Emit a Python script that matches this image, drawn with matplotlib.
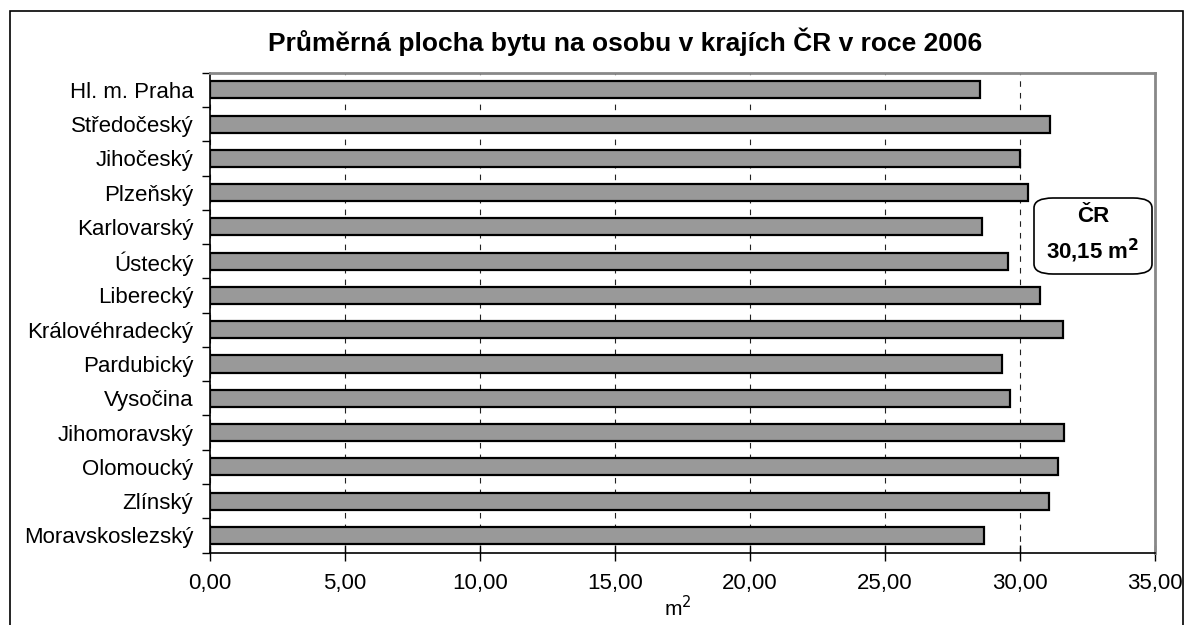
import matplotlib

matplotlib.use("Agg")
import matplotlib.pyplot as plt
import numpy as np
from matplotlib.patches import FancyBboxPatch, Rectangle
from matplotlib.ticker import FixedLocator, FuncFormatter

plt.rcParams["font.family"] = ["Liberation Sans", "DejaVu Sans"]

regions = [
    "Hl. m. Praha", "Středočeský", "Jihočeský", "Plzeňský", "Karlovarský",
    "Ústecký", "Liberecký", "Královéhradecký", "Pardubický", "Vysočina",
    "Jihomoravský", "Olomoucký", "Zlínský", "Moravskoslezský",
]
area = [28.52, 31.11, 30.00, 30.28, 28.60, 29.57, 30.74,
        31.58, 29.34, 29.63, 31.64, 31.41, 31.06, 28.68]
cr_average = 30.15
x_ticks = [0, 5, 10, 15, 20, 25, 30, 35]

fig = plt.figure(figsize=(11.84, 6.25), dpi=100)
ax = fig.add_axes([0.1774, 0.116, 0.7981, 0.7677])

n = len(regions)
ypos = np.arange(n)[::-1]
ax.barh(ypos, area, height=0.5, color="#999999", edgecolor="black",
        linewidth=1.6, zorder=3)

ax.set_xlim(0, 35)
ax.set_ylim(-0.5, n - 0.5)
ax.set_xticks(x_ticks)
ax.xaxis.set_major_formatter(FuncFormatter(lambda v, _: f"{v:.2f}".replace(".", ",")))
ax.grid(axis="x", color="#222222", linestyle=(0, (5, 5.5)), linewidth=0.8, zorder=1)

ax.set_yticks(ypos)
ax.set_yticklabels(regions)
ax.yaxis.set_minor_locator(FixedLocator(np.arange(n + 1) - 0.5))
ax.tick_params(axis="y", which="major", length=0, pad=12, labelsize=16)
ax.tick_params(axis="y", which="minor", length=6, width=1, direction="out")
ax.tick_params(axis="x", which="major", length=12, width=1, direction="inout",
               labelsize=16, pad=9)

for side in ("left", "bottom"):
    ax.spines[side].set_color("black")
    ax.spines[side].set_linewidth(1.2)
for side in ("top", "right"):
    ax.spines[side].set_color("#888888")
    ax.spines[side].set_linewidth(2)

fig.text(0.528, 0.933, "Průměrná plocha bytu na osobu v krajích ČR v roce 2006",
         ha="center", va="center", fontsize=19, fontweight="bold")
fig.text(0.572, 0.028, "m$^2$", ha="center", va="center", fontsize=15)

# average annotation box
box = FancyBboxPatch((1034 / 1184, 1 - 274 / 625), 118 / 1184, 76 / 625,
                     boxstyle="round,pad=0,rounding_size=0.016",
                     transform=fig.transFigure, facecolor="white",
                     edgecolor="black", linewidth=1.2, zorder=5)
fig.add_artist(box)
fig.text(1093 / 1184, 1 - 217 / 625, "ČR", ha="center", va="center",
         fontsize=16, fontweight="bold", zorder=6)
fig.text(1093 / 1184, 1 - 251 / 625,
         f"{cr_average:.2f}".replace(".", ",") + " m$^{\\mathbf{2}}$",
         ha="center", va="center", fontsize=16, fontweight="bold", zorder=6)

# outer chart border
fig.add_artist(Rectangle((10 / 1184, -0.05), 1173 / 1184, 1.05 - 11 / 625,
                         transform=fig.transFigure, fill=False,
                         edgecolor="black", linewidth=1.2))

fig.savefig("out.png", dpi=100)
